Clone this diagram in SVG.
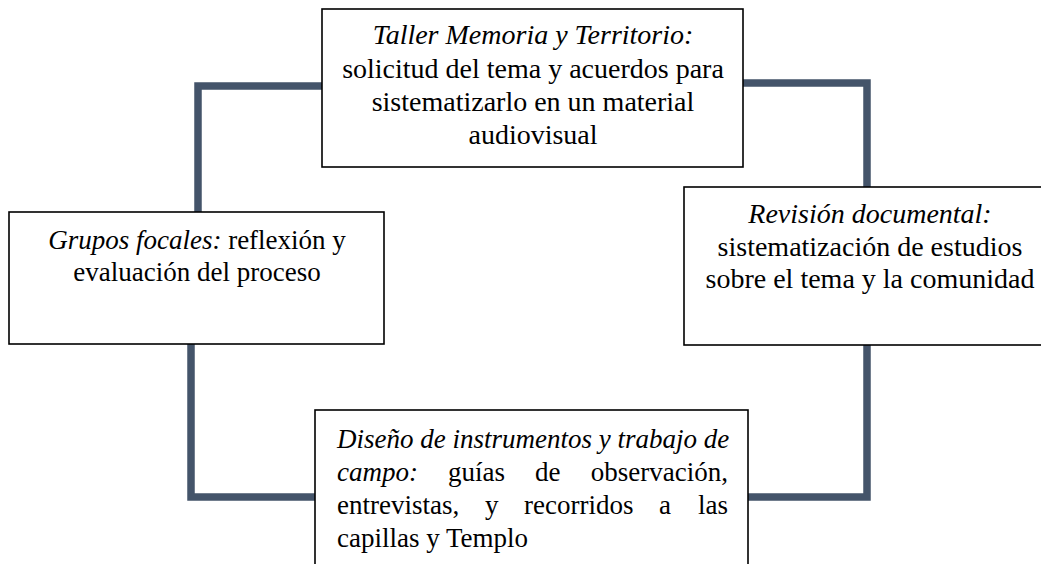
<svg xmlns="http://www.w3.org/2000/svg" width="1041" height="564" viewBox="0 0 1041 564">
<style>
.box{fill:#fff;stroke:#000;stroke-width:1.6}
.con{fill:none;stroke:#44546A;stroke-width:7.5;stroke-linejoin:miter}
.t{font-family:'Liberation Serif','Times New Roman',serif;font-size:28px;fill:#000}
.s{font-size:27px}
.c{text-anchor:middle}
.i{font-style:italic}
.e{text-anchor:end}
</style>
<rect width="1041" height="564" fill="#fff"/>
<g id="connectors">
<path class="con" d="M322,86 H198 V212"/>
<path class="con" d="M743,83 H867 V187"/>
<path class="con" d="M867,345 V497 H748"/>
<path class="con" d="M191,344 V497 H315"/>
</g>
<g id="n-taller">
<rect class="box" x="322" y="9" width="421" height="158"/>
<text class="t c i" x="533" y="44">Taller Memoria y Territorio:</text>
<text class="t c" x="533" y="78">solicitud del tema y acuerdos para</text>
<text class="t c" x="533" y="111">sistematizarlo en un material</text>
<text class="t c" x="533" y="144">audiovisual</text>
</g>
<g id="n-grupos">
<rect class="box" x="9" y="212" width="375" height="132"/>
<text x="197" y="249" class="t c s"><tspan class="i">Grupos focales:</tspan> reflexión y</text>
<text x="197" y="281" class="t c s">evaluación del proceso</text>
</g>
<g id="n-revision">
<rect class="box" x="684" y="187" width="362" height="158"/>
<text class="t c i" x="870" y="223">Revisión documental:</text>
<text class="t c" x="870" y="256">sistematización de estudios</text>
<text class="t c" x="870" y="288">sobre el tema y la comunidad</text>
</g>
<g id="n-diseno">
<rect class="box" x="315" y="410" width="433" height="160"/>
<text class="t s i" x="337" y="448">Diseño de instrumentos y trabajo de</text>
<text class="t s" y="481"><tspan class="i" x="337">campo:</tspan><tspan x="448">guías</tspan><tspan x="535">de</tspan></text>
<text class="t s e" x="728" y="481">observación,</text>
<text class="t s" y="514"><tspan x="337">entrevistas,</tspan><tspan x="485">y</tspan><tspan x="524">recorridos</tspan><tspan x="659">a</tspan></text>
<text class="t s e" x="728" y="514">las</text>
<text class="t s" x="337" y="547">capillas y Templo</text>
</g>
</svg>
